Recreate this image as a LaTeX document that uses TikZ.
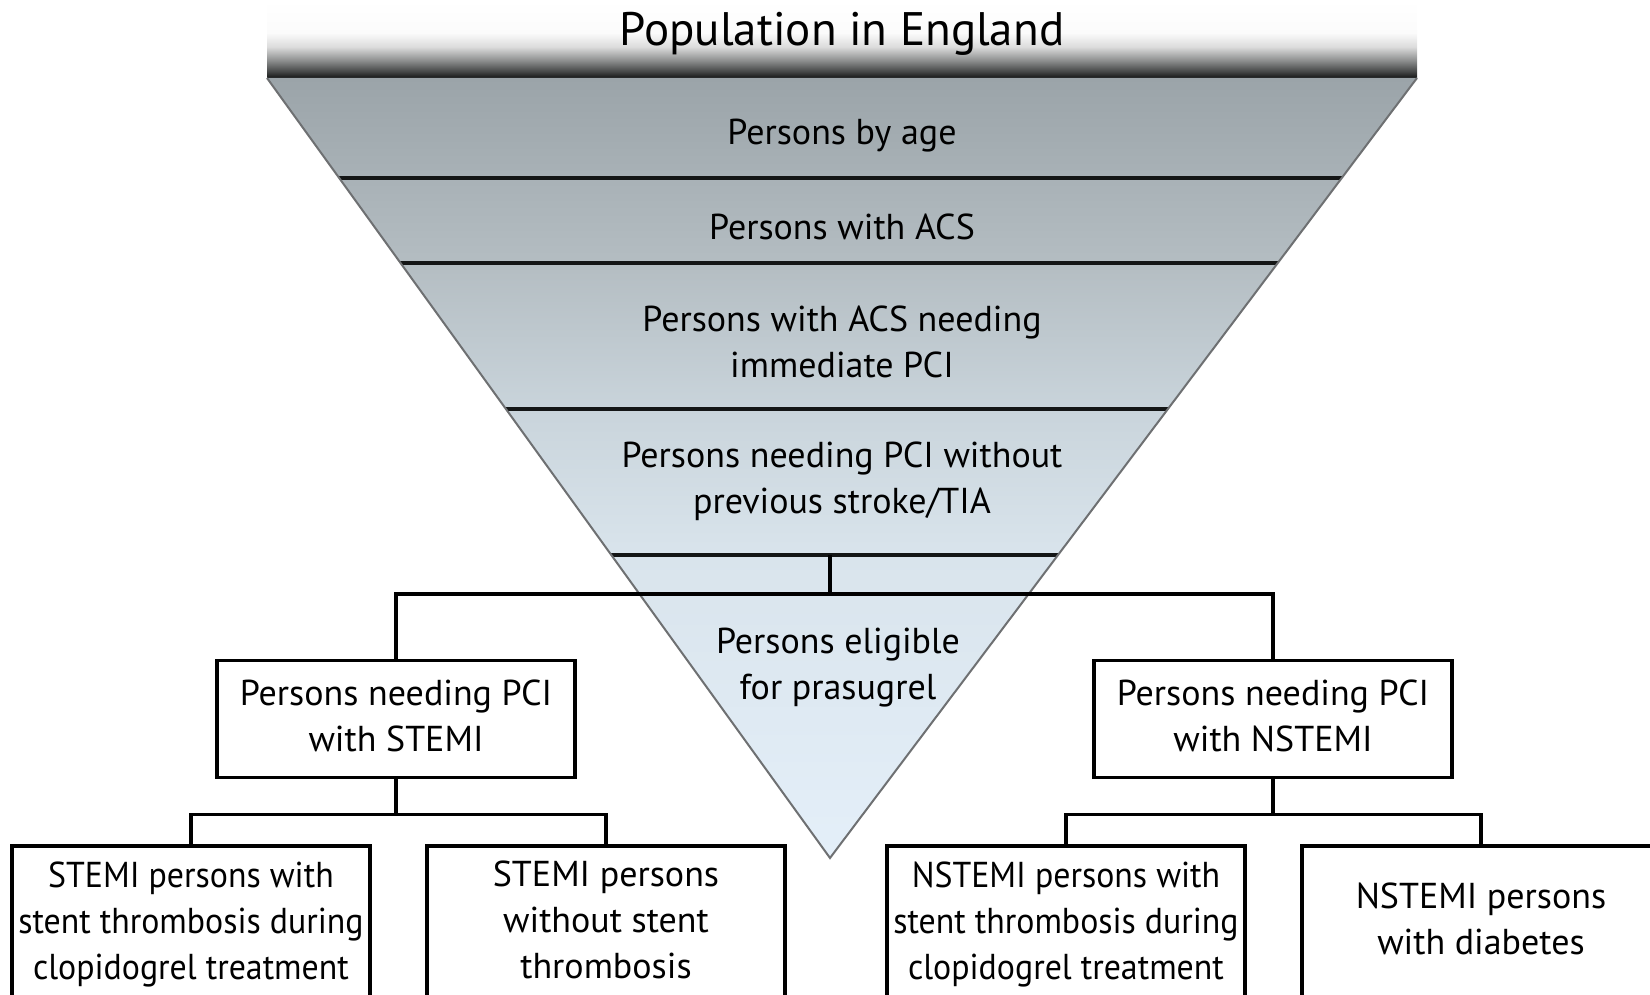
\documentclass[tikz,border=0pt]{standalone}
\usepackage{fontspec}
\setmainfont{PT Sans}
\newfontfamily\narrowsans[FakeStretch=0.94]{PT Sans}
\usetikzlibrary{calc}

\definecolor{bannerdark}{HTML}{141616}
\definecolor{bannergrey}{HTML}{8A8C8C}
\definecolor{bannerlight}{HTML}{DCDCDC}
\definecolor{funneltop}{HTML}{9BA4A9}
\definecolor{funnelmid}{HTML}{B4BDC2}
\definecolor{funnellow}{HTML}{C9D4DB}
\definecolor{funnelpale}{HTML}{D9E4EC}
\definecolor{funnelend}{HTML}{E4EFF9}
\definecolor{funneledge}{HTML}{6E7072}

% white at the top, fading to almost black at the lower edge
\pgfdeclareverticalshading{bannershade}{100bp}{color(0bp)=(bannerdark); color(25bp)=(bannerdark);
  color(29bp)=(bannerdark!80!white); color(36bp)=(bannergrey); color(45bp)=(bannerlight);
  color(54bp)=(white!97!gray); color(75bp)=(white); color(100bp)=(white)}
% grey-blue at the top of the funnel, pale blue at the tip
\pgfdeclareverticalshading{funnelshade}{100bp}{color(0bp)=(funnelend); color(25bp)=(funnelend);
  color(44.4bp)=(funnelpale); color(53.8bp)=(funnellow); color(63.1bp)=(funnelmid);
  color(75bp)=(funneltop); color(100bp)=(funneltop)}

\begin{document}
\begin{tikzpicture}[x=1pt,y=-1pt]
	\tikzstyle{level} =[font=\fontsize{36}{46}\selectfont, align=center];
	\tikzstyle{frame} =[draw, line width=3.6pt, minimum width=358pt, font=\fontsize{36}{46}\selectfont, align=center];
	\tikzstyle{box} =[frame, minimum height=117pt, text depth=6pt];
	\tikzstyle{subbox} =[frame, minimum height=156pt];
	\tikzstyle{band} =[line width=3.6pt, draw=bannerdark];
	\tikzstyle{link} =[line width=3.6pt];
	\useasboundingbox (0,0) rectangle (1650,995);

	% banner
	\fill[shading=bannershade] (267,0) rectangle (1417,78);
	\node[font=\fontsize{47}{54}\selectfont] (pop) at (842,34) {Population in England};

	% funnel
	\coordinate (tl) at (267,78);
	\coordinate (tr) at (1417,78);
	\coordinate (apex) at (830,858);
	\fill[shading=funnelshade] (tl) -- (tr) -- (apex) -- cycle;
	\begin{scope}
		\clip (tl) -- (tr) -- (apex) -- cycle;
		\foreach \y in {178,263,409,555}
			\draw[band] (0,\y) -- (1650,\y);
	\end{scope}
	\draw[line width=2pt, draw=funneledge, line join=miter] (tl) -- (apex) -- (tr);

	\node[level] (age) at (842,136) {Persons by age};
	\node[level] (acs) at (842,227) {Persons with ACS};
	\node[level] (pci) at (842,342) {Persons with ACS needing\\immediate PCI};
	\node[level] (nostroke) at (842,481) {Persons needing PCI without\\previous stroke/TIA};
	\node[level] (eligible) at (838,668) {Persons eligible\\for prasugrel};

	% STEMI / NSTEMI split
	\node[box] (stemi) at (396,719) {Persons needing PCI\\with STEMI};
	\node[box] (nstemi) at (1273,719) {Persons needing PCI\\with NSTEMI};

	\node[subbox, font=\narrowsans\fontsize{36}{46}\selectfont] (stemithr) at (191,924) {STEMI persons with\\stent thrombosis during\\clopidogrel treatment};
	\node[subbox, text depth=8pt] (stemino) at (606,924) {STEMI persons\\without stent\\thrombosis};
	\node[subbox, font=\narrowsans\fontsize{36}{46}\selectfont] (nstemithr) at (1066,924) {NSTEMI persons with\\stent thrombosis during\\clopidogrel treatment};
	\node[subbox, text depth=10pt] (nstemidia) at (1481,924) {NSTEMI persons\\with diabetes};

	\coordinate (split) at (830,555);
	\coordinate (fork) at (830,594);
	\draw[link] (split) -- (fork);
	\draw[link] (stemi.north) |- (fork) -| (nstemi.north);

	\coordinate (stemifork) at ($(stemi.south)+(0,35)$);
	\coordinate (nstemifork) at ($(nstemi.south)+(0,35)$);
	\draw[link] (stemi.south) -- (stemifork);
	\draw[link] (stemithr.north) |- (stemifork) -| (stemino.north);
	\draw[link] (nstemi.south) -- (nstemifork);
	\draw[link] (nstemithr.north) |- (nstemifork) -| (nstemidia.north);
\end{tikzpicture}
\end{document}
